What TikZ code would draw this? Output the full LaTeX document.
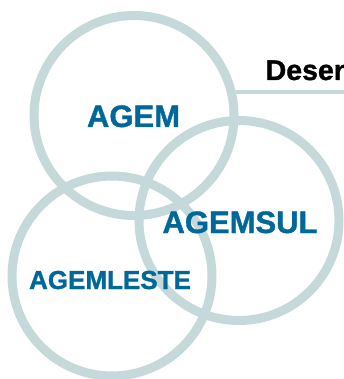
\documentclass[tikz,border=0pt]{standalone}
\usepackage{fontspec}
\setmainfont{Liberation Sans}
\newfontfamily\heavyfont{Liberation Sans Bold}[FakeBold=1.2]
\definecolor{ringgray}{RGB}{197,217,219}
\definecolor{agemblue}{RGB}{0,104,152}

\begin{document}
\begin{tikzpicture}[x=1pt, y=-1pt,
  ring/.style={circle, draw=ringgray, line width=9pt, minimum size=200pt, inner sep=0pt},
  label/.style={text=agemblue, font=\fontsize{31}{31}\heavyfont, inner sep=0pt, anchor=base}]
  % Fix the page size
  \useasboundingbox (0, 0) rectangle (344, 379);
  \clip (0, 0) rectangle (344, 379);

  % Draw the three rings
  \node[ring] (agemring) at (134, 115.5) {};
  \node[ring] (sulring) at (239, 220.5) {};
  \node[ring] (lestering) at (112, 276) {};

  % Draw the rule towards the heading
  \coordinate (rim) at (344, 91);
  \draw[ringgray, line width=4pt] (agemring.13) -- (agemring.13 -| rim);

  % Add the heading
  \node[font=\fontsize{28.5}{28.5}\heavyfont, inner sep=0pt, anchor=base west] (heading) at (265.5, 80) {Desen};

  % Add the agency names
  \node[label] (agem) at (133.5, 127) {AGEM};
  \node[label] (agemsul) at (240, 233) {AGEMSUL};
  \node[label, font=\fontsize{26}{26}\heavyfont] (agemleste) at (110, 289) {AGEMLESTE};
\end{tikzpicture}
\end{document}
